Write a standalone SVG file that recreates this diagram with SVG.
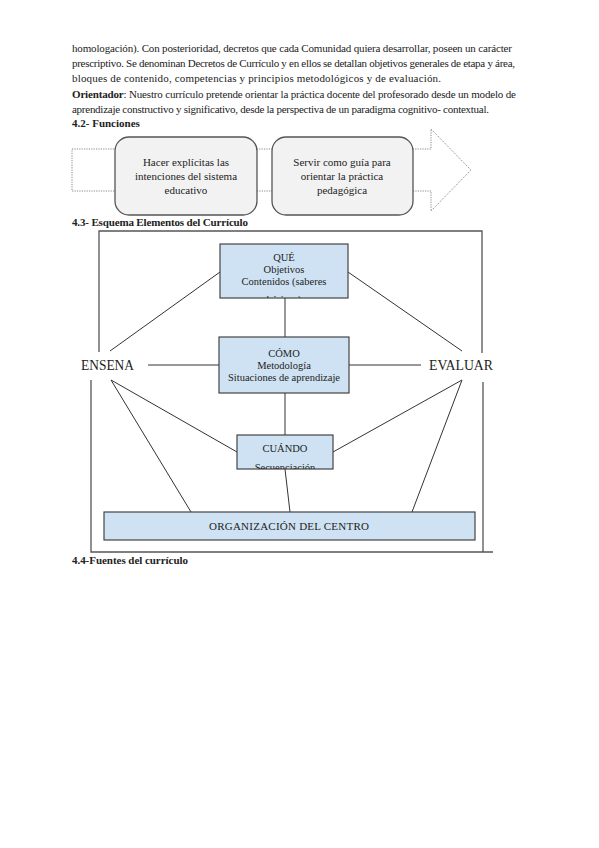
<svg xmlns="http://www.w3.org/2000/svg" width="599" height="848" viewBox="0 0 599 848">
<style>
text{font-family:"Liberation Serif","DejaVu Serif",serif;fill:#222}
.p{font-size:11px}
.h{font-size:11px;font-weight:bold}
.c{text-anchor:middle}
.bx{font-size:10.5px;text-anchor:middle}
.fn{fill:#f2f2f2;stroke:#555;stroke-width:1.3}
.bl{fill:#cfe2f3;stroke:#444;stroke-width:1.2}
.ln{stroke:#333;stroke-width:1;fill:none}
.fr{stroke:#555;stroke-width:1.3;fill:none}
.big{font-size:14px}
</style>
<defs>
<clipPath id="cq"><rect x="220" y="244" width="128" height="54"/></clipPath>
<clipPath id="cc"><rect x="237" y="435" width="96" height="34"/></clipPath>
</defs>
<rect width="599" height="848" fill="#fff"/>
<g id="paragraph">
<text class="p" x="72" y="52" textLength="440" lengthAdjust="spacing">homologación). Con posterioridad, decretos que cada Comunidad quiera desarrollar, poseen un carácter</text>
<text class="p" x="72" y="67" textLength="443" lengthAdjust="spacing">prescriptivo. Se denominan Decretos de Currículo y en ellos se detallan objetivos generales de etapa y área,</text>
<text class="p" x="72" y="82" textLength="369" lengthAdjust="spacing">bloques de contenido, competencias y principios metodológicos y de evaluación.</text>
<text class="p" x="72" y="98" textLength="444" lengthAdjust="spacing"><tspan font-weight="bold">Orientador</tspan>: Nuestro currículo pretende orientar la práctica docente del profesorado desde un modelo de</text>
<text class="p" x="72" y="113" textLength="417" lengthAdjust="spacing">aprendizaje constructivo y significativo, desde la perspectiva de un paradigma cognitivo- contextual.</text>
<text class="h" x="72" y="127">4.2- Funciones</text>
<text class="h" x="72" y="226" textLength="176" lengthAdjust="spacing">4.3- Esquema Elementos del Currículo</text>
<text class="h" x="72" y="564" textLength="116" lengthAdjust="spacing">4.4-Fuentes del currículo</text>
</g>
<g id="arrow">
<polygon points="72,149 431,149 431,129 471,170 431,211 431,191 72,191" fill="none" stroke="#888" stroke-width="1" stroke-dasharray="1.2,1.2"/>
</g>
<g id="func1">
<rect class="fn" x="115" y="137" width="142" height="78" rx="14"/>
<text class="p c" x="186" y="166">Hacer explícitas las</text>
<text class="p c" x="186" y="180">intenciones del sistema</text>
<text class="p c" x="186" y="194">educativo</text>
</g>
<g id="func2">
<rect class="fn" x="272" y="137" width="141" height="78" rx="14"/>
<text class="p c" x="342" y="166">Servir como guía para</text>
<text class="p c" x="342" y="180">orientar la práctica</text>
<text class="p c" x="342" y="194">pedagógica</text>
</g>
<g id="frame">
<polyline class="fr" points="99,352 99,231 482,231 482,353"/>
<polyline class="fr" points="91,380 91,552 493,552"/>
<line class="fr" x1="483" y1="382" x2="483" y2="552"/>
</g>
<g id="connectors">
<line class="ln" x1="285" y1="298" x2="285" y2="337"/>
<line class="ln" x1="285" y1="393" x2="285" y2="435"/>
<line class="ln" x1="285" y1="469" x2="290" y2="512"/>
<line class="ln" x1="148" y1="365" x2="219" y2="365"/>
<line class="ln" x1="349" y1="365" x2="421" y2="365"/>
<line class="ln" x1="110" y1="351" x2="220" y2="272"/>
<line class="ln" x1="348" y1="272" x2="462" y2="351"/>
<line class="ln" x1="111" y1="380" x2="237" y2="452"/>
<line class="ln" x1="111" y1="380" x2="191" y2="512"/>
<line class="ln" x1="462" y1="380" x2="333" y2="452"/>
<line class="ln" x1="462" y1="380" x2="412" y2="512"/>
</g>
<g id="que">
<rect class="bl" x="220" y="244" width="128" height="54"/>
<g clip-path="url(#cq)">
<text class="bx" x="284" y="261">QUÉ</text>
<text class="bx" x="284" y="273">Objetivos</text>
<text class="bx" x="284" y="285">Contenidos (saberes</text>
<text class="bx" x="284" y="302.5">básicos)</text>
</g>
</g>
<g id="como">
<rect class="bl" x="219" y="337" width="130" height="56"/>
<text class="bx" x="284" y="357">CÓMO</text>
<text class="bx" x="284" y="369">Metodología</text>
<text class="bx" x="284" y="381">Situaciones de aprendizaje</text>
</g>
<g id="cuando">
<rect class="bl" x="237" y="435" width="96" height="34"/>
<g clip-path="url(#cc)">
<text class="bx" x="285" y="452">CUÁNDO</text>
<text class="bx" x="285" y="470.5">Secuenciación</text>
</g>
</g>
<g id="organizacion">
<rect class="bl" x="104" y="512" width="371" height="28"/>
<text class="p c" x="289" y="530" textLength="160" lengthAdjust="spacing">ORGANIZACIÓN DEL CENTRO</text>
</g>
<g id="ensena">
<text class="big" x="81" y="370" textLength="53" lengthAdjust="spacingAndGlyphs">ENSENA</text>
</g>
<g id="evaluar">
<text class="big" x="429" y="370" textLength="64" lengthAdjust="spacingAndGlyphs">EVALUAR</text>
</g>
</svg>
